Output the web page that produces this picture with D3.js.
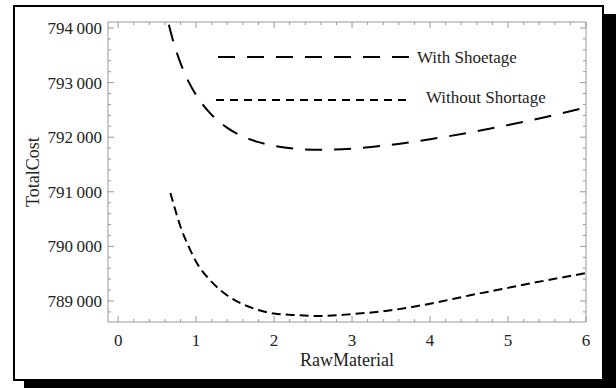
<!DOCTYPE html>
<html>
<head>
<meta charset="utf-8">
<script src="https://cdn.jsdelivr.net/npm/d3@7"></script>
<style>
  html, body { margin: 0; padding: 0; background: #fff; }
  svg { display: block; }
</style>
</head>
<body>
<svg id="chart" width="616" height="388"></svg>
<script>
const fontFamily = "'Liberation Serif', 'Times New Roman', serif";
const width = 616, height = 388;

// Curve values (RawMaterial -> TotalCost)
const rawMaterial = [0.65, 0.7, 0.8, 0.9, 1.0, 1.2, 1.4, 1.6, 1.8, 2.0, 2.3, 2.6, 3.0, 3.5, 4.0, 4.5, 5.0, 5.5, 6.0];
const withShortage = [794060, 793790, 793356, 793027, 792772, 792409, 792172, 792014, 791909, 791840, 791785, 791769, 791791, 791861, 791962, 792084, 792222, 792375, 792545];
const rawMaterialNo = [0.67, 0.7, 0.8, 0.9, 1.0, 1.2, 1.4, 1.6, 1.8, 2.0, 2.3, 2.6, 3.0, 3.5, 4.0, 4.5, 5.0, 5.5, 6.0];
const withoutShortage = [790978, 790830, 790360, 790010, 789720, 789350, 789100, 788940, 788835, 788770, 788740, 788725, 788760, 788830, 788950, 789100, 789240, 789380, 789510];

const xTicks = [0, 1, 2, 3, 4, 5, 6];
const yTicks = [789000, 790000, 791000, 792000, 793000, 794000];
const legendLabels = ["With Shoetage", "Without Shortage"];

const svg = d3.select("#chart");

// Frame with drop shadow
svg.append("rect")
  .attr("x", 24).attr("y", 14)
  .attr("width", 620).attr("height", 400)
  .attr("fill", "#000");
svg.append("rect")
  .attr("x", 14).attr("y", 6)
  .attr("width", 589).attr("height", 374)
  .attr("fill", "#fff")
  .attr("stroke", "#000")
  .attr("stroke-width", 2);

// Plot area
const pLeft = 108, pRight = 586, pTop = 22, pBottom = 322;
const x = d3.scaleLinear().domain([-0.13, 6]).range([pLeft, pRight]);
const y = d3.scaleLinear().domain([788615, 794110]).range([pBottom, pTop]);

const axisColor = "#999";

// Frame lines
svg.append("rect")
  .attr("x", pLeft).attr("y", pTop)
  .attr("width", pRight - pLeft).attr("height", pBottom - pTop)
  .attr("fill", "none")
  .attr("stroke", axisColor)
  .attr("stroke-width", 1);

// Ticks (inward, on all four sides)
const xMinor = d3.range(0, 6.01, 0.2).filter(v => Math.abs(v - Math.round(v)) > 1e-6);
const yMinor = d3.range(788800, 794100, 200).filter(v => v % 1000 !== 0);

function xTickMarks(vals, len) {
  vals.forEach(v => {
    const px = x(v);
    svg.append("line").attr("x1", px).attr("x2", px).attr("y1", pBottom).attr("y2", pBottom - len)
      .attr("stroke", axisColor);
    svg.append("line").attr("x1", px).attr("x2", px).attr("y1", pTop).attr("y2", pTop + len)
      .attr("stroke", axisColor);
  });
}
function yTickMarks(vals, len) {
  vals.forEach(v => {
    const py = y(v);
    svg.append("line").attr("x1", pLeft).attr("x2", pLeft + len).attr("y1", py).attr("y2", py)
      .attr("stroke", axisColor);
    svg.append("line").attr("x1", pRight).attr("x2", pRight - len).attr("y1", py).attr("y2", py)
      .attr("stroke", axisColor);
  });
}
xTickMarks(xTicks, 6);
xTickMarks(xMinor, 3);
yTickMarks(yTicks, 6);
yTickMarks(yMinor, 3);

// Tick labels
svg.selectAll("text.xtick")
  .data(xTicks)
  .enter()
  .append("text")
  .attr("class", "xtick")
  .attr("x", d => x(d))
  .attr("y", 346)
  .attr("text-anchor", "middle")
  .attr("font-family", fontFamily)
  .attr("font-size", "17px")
  .attr("fill", "#222")
  .text(d => d);

svg.selectAll("text.ytick")
  .data(yTicks)
  .enter()
  .append("text")
  .attr("class", "ytick")
  .attr("x", 102)
  .attr("y", d => y(d) + 6)
  .attr("text-anchor", "end")
  .attr("font-family", fontFamily)
  .attr("font-size", "17px")
  .attr("fill", "#222")
  .text(d => String(d).slice(0, 3) + "\u2009" + String(d).slice(3));

// Axis titles
svg.append("text")
  .attr("x", (pLeft + pRight) / 2)
  .attr("y", 366)
  .attr("text-anchor", "middle")
  .attr("font-family", fontFamily)
  .attr("font-size", "18px")
  .attr("fill", "#222")
  .text("RawMaterial");

svg.append("text")
  .attr("transform", `translate(39, ${(pTop + pBottom) / 2}) rotate(-90)`)
  .attr("text-anchor", "middle")
  .attr("font-family", fontFamily)
  .attr("font-size", "18px")
  .attr("fill", "#222")
  .text("TotalCost");

// Curves
const clip = svg.append("defs").append("clipPath").attr("id", "plotClip");
clip.append("rect").attr("x", pLeft).attr("y", pTop).attr("width", pRight - pLeft).attr("height", pBottom - pTop);
const plot = svg.append("g").attr("clip-path", "url(#plotClip)");

const line = d3.line()
  .x(d => x(d[0]))
  .y(d => y(d[1]))
  .curve(d3.curveMonotoneX);

plot.append("path")
  .datum(rawMaterial.map((v, i) => [v, withShortage[i]]))
  .attr("d", line)
  .attr("fill", "none")
  .attr("stroke", "#000")
  .attr("stroke-width", 2)
  .attr("stroke-dasharray", "17,12");

plot.append("path")
  .datum(rawMaterialNo.map((v, i) => [v, withoutShortage[i]]))
  .attr("d", line)
  .attr("fill", "none")
  .attr("stroke", "#000")
  .attr("stroke-width", 2)
  .attr("stroke-dasharray", "9,5");

// Legend
const legend = svg.append("g");
legend.append("line")
  .attr("x1", 218).attr("x2", 410).attr("y1", 57).attr("y2", 57)
  .attr("stroke", "#000").attr("stroke-width", 2)
  .attr("stroke-dasharray", "17,12");
legend.append("text")
  .attr("x", 417).attr("y", 63)
  .attr("font-family", fontFamily)
  .attr("font-size", "17px")
  .attr("fill", "#222")
  .text(legendLabels[0]);

legend.append("line")
  .attr("x1", 216).attr("x2", 412).attr("y1", 100).attr("y2", 100)
  .attr("stroke", "#000").attr("stroke-width", 2)
  .attr("stroke-dasharray", "8,6");
legend.append("text")
  .attr("x", 426).attr("y", 103)
  .attr("font-family", fontFamily)
  .attr("font-size", "17px")
  .attr("fill", "#222")
  .text(legendLabels[1]);
</script>
</body>
</html>
